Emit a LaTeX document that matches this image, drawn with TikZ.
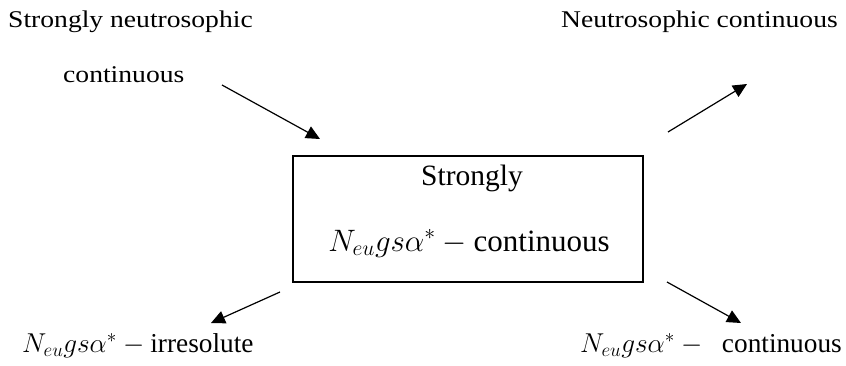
\RequirePackage{fix-cm}
\documentclass[tikz,border=0pt]{standalone}
\usepackage{fontspec}
\setmainfont{Liberation Serif}
\newfontfamily\labelfont[FakeStretch=1.15]{Liberation Serif}
\usetikzlibrary{arrows.meta}
% the symbol N_{eu} g s alpha^* followed by a minus sign
\newcommand{\nsym}{$N_{eu}gs\alpha^{*}-{}$}
\tikzset{
  outer/.style={font=\labelfont\fontsize{24}{28}\selectfont, inner sep=0pt},
  inner/.style={font=\fontsize{29.5}{33}\selectfont, inner sep=0pt},
  innermath/.style={font=\fontsize{31}{35}\selectfont, inner sep=0pt},
  lower/.style={font=\fontsize{27.3}{31}\selectfont, inner sep=0pt},
  mainbox/.style={draw, line width=1.2pt, minimum width=350pt, minimum height=126pt, inner sep=0pt},
  implies/.style={line width=1.2pt, -{Triangle[length=14pt,width=13pt]}}
}
\begin{document}
\begin{tikzpicture}[x=1pt,y=-1pt]
\useasboundingbox (0,0) rectangle (846,365);
% central notion
\node[mainbox] (box) at (468,219) {};
\node[inner, anchor=base] (t1) at (472,185) {Strongly};
\node[innermath, anchor=base] (t2) at (469,251) {\nsym continuous};
% surrounding notions
\node[outer, anchor=base west] (sn1) at (8,27) {Strongly neutrosophic};
\node[outer, anchor=base west] (sn2) at (63,82) {continuous};
\node[outer, anchor=base east] (nc) at (838,27) {Neutrosophic continuous};
\node[lower, anchor=base west] (ir) at (22,352) {\nsym irresolute};
\node[lower, anchor=base east] (co) at (842,352) {\nsym\enspace continuous};
% implication arrows
\coordinate (a1s) at (222,85);  \coordinate (a1e) at (320,139);
\coordinate (a2s) at (668,132); \coordinate (a2e) at (747,84);
\coordinate (a3s) at (280,292); \coordinate (a3e) at (211,323);
\coordinate (a4s) at (667,282); \coordinate (a4e) at (741,323);
\draw[implies] (a1s) -- (a1e);
\draw[implies] (a2s) -- (a2e);
\draw[implies] (a3s) -- (a3e);
\draw[implies] (a4s) -- (a4e);
\end{tikzpicture}
\end{document}
